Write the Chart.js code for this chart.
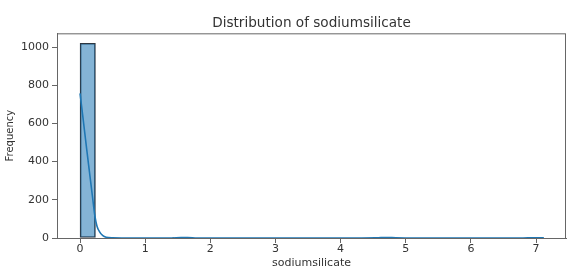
<!DOCTYPE html>
<html>
<head>
<meta charset="utf-8">
<script src="https://cdn.jsdelivr.net/npm/chart.js@4"></script>
<style>
  html, body { margin: 0; padding: 0; background: #fff; }
  canvas { display: block; }
</style>
</head>
<body>
<canvas id="hist" width="587" height="276"></canvas>
<script>
// histogram bins (centres) and counts
const binCenters = [0.118, 0.355, 0.592, 0.828, 1.065, 1.302, 1.538, 1.775, 2.012, 2.248,
                    2.485, 2.722, 2.958, 3.195, 3.432, 3.668, 3.905, 4.142, 4.378, 4.615,
                    4.852, 5.088, 5.325, 5.562, 5.798, 6.035, 6.272, 6.508, 6.745, 6.982];
const binCounts = [1020, 0, 0, 0, 0, 0, 1, 0, 0, 0,
                   0, 0, 0, 0, 0, 0, 0, 0, 0, 1,
                   0, 0, 0, 0, 0, 0, 0, 0, 0, 1];

// kde curve
const kdeX = [0, 0.05, 0.1, 0.15, 0.2, 0.23, 0.26, 0.3, 0.35, 0.4, 0.5, 0.7, 1.0, 1.4, 1.55, 1.65, 1.8, 2.2,
              3.0, 4.0, 4.55, 4.7, 4.85, 5.2, 6.0, 6.8, 6.95, 7.05, 7.12];
const kdeY = [757, 615, 470, 330, 190, 110, 62, 32, 12, 4, 0.8, 0, 0, 0, 2, 2, 0, 0,
              0, 0, 1, 3, 1, 0, 0, 0, 1.5, 1.5, 0.5];

const xTicks = [0, 1, 2, 3, 4, 5, 6, 7];
const yTicks = [0, 200, 400, 600, 800, 1000];

const TEXT = '#333';
const SPINE = '#666';

// matplotlib style frame on all four sides
const frame = {
  id: 'frame',
  afterDraw(chart) {
    const a = chart.chartArea, c = chart.ctx;
    c.save();
    c.strokeStyle = SPINE;
    c.lineWidth = 1;
    c.strokeRect(a.left + 0.5, a.top + 0.5, a.right - a.left - 1, a.bottom - a.top);
    c.restore();
  }
};

new Chart(document.getElementById('hist'), {
  data: {
    datasets: [{
      type: 'line',
      data: kdeX.map((x, i) => ({x: x, y: kdeY[i]})),
      borderColor: '#1f77b4',
      borderWidth: 1.6,
      pointRadius: 0,
      cubicInterpolationMode: 'monotone',
      order: 0
    }, {
      type: 'bar',
      data: binCenters.map((x, i) => ({x: x, y: binCounts[i] || null})),
      backgroundColor: 'rgba(31,119,180,0.55)',
      borderColor: '#2d3640',
      borderWidth: 1,
      borderSkipped: false,
      barPercentage: 1,
      categoryPercentage: 1,
      grouped: false,
      order: 1
    }]
  },
  options: {
    responsive: false,
    animation: false,
    layout: { padding: { left: 0, right: 21, top: 0, bottom: 0 } },
    plugins: {
      legend: { display: false },
      tooltip: { enabled: false },
      title: {
        display: true,
        text: 'Distribution of sodiumsilicate',
        color: TEXT,
        fullSize: false,
        font: { family: 'DejaVu Sans', size: 13.6, weight: 'normal' },
        padding: { top: 15, bottom: 2 }
      }
    },
    scales: {
      x: {
        type: 'linear',
        min: -0.354,
        max: 7.46,
        offset: false,
        afterBuildTicks: s => { s.ticks = xTicks.map(v => ({value: v})); },
        afterFit: s => { s.height = 38; },
        grid: { drawOnChartArea: false, offset: false, tickLength: 5, color: SPINE },
        border: { color: SPINE },
        ticks: { color: TEXT, padding: 0, maxRotation: 0, font: { family: 'DejaVu Sans', size: 11 } },
        title: {
          display: true,
          text: 'sodiumsilicate',
          color: TEXT,
          font: { family: 'DejaVu Sans', size: 11 },
          padding: { top: 0, bottom: 6.7 }
        }
      },
      y: {
        min: 0,
        max: 1072,
        afterBuildTicks: s => { s.ticks = yTicks.map(v => ({value: v})); },
        afterFit: s => { s.width = 57; },
        grid: { drawOnChartArea: false, tickLength: 5, color: SPINE },
        border: { color: SPINE },
        ticks: { color: TEXT, padding: 3, font: { family: 'DejaVu Sans', size: 11 }, callback: v => String(v) },
        title: {
          display: true,
          text: 'Frequency',
          color: TEXT,
          font: { family: 'DejaVu Sans', size: 10 },
          padding: { top: 4, bottom: 0 }
        }
      }
    }
  },
  plugins: [frame]
});
</script>
</body>
</html>
